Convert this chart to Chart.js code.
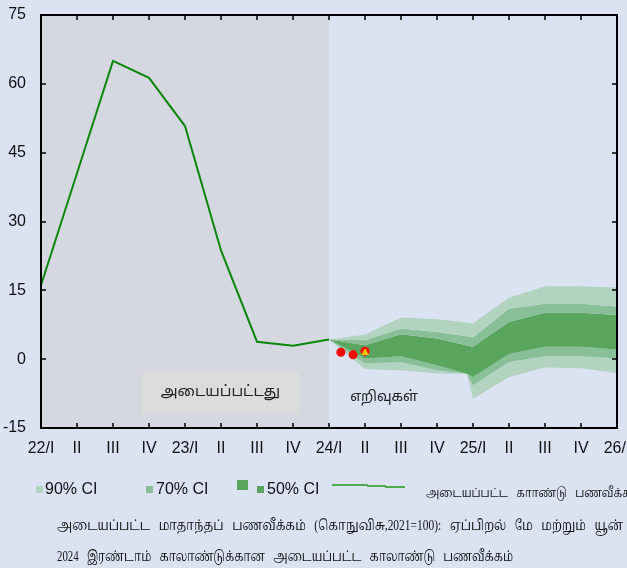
<!DOCTYPE html>
<html>
<head>
<meta charset="utf-8">
<script src="https://cdn.jsdelivr.net/npm/chart.js@4.4.1/dist/chart.umd.min.js"></script>
<style>
  html, body { margin: 0; padding: 0; background: #dbe3f3; }
  #wrap { position: relative; width: 627px; height: 568px; overflow: hidden; }
  canvas { position: absolute; left: 0; top: 0; }
  .lg { position: absolute; white-space: nowrap; color: #111; }
  .ci { font: 16px "Liberation Sans", Arial, sans-serif; }
  .ta { font: 14px/16px "Liberation Serif", "Noto Serif Tamil", "Noto Sans Tamil", serif;
        word-spacing: 7px; transform-origin: 0 50%; }
  .sq { position: absolute; }
</style>
</head>
<body>
<div id="wrap">
  <canvas id="chart" width="627" height="568"></canvas>

  <div class="sq" style="left:36px;top:486px;width:7px;height:7px;background:#b1d3c0"></div>
  <div class="lg ci" style="left:45px;top:480px">90% CI</div>
  <div class="sq" style="left:146px;top:486px;width:7px;height:7px;background:#88bf96"></div>
  <div class="lg ci" style="left:156px;top:480px">70% CI</div>
  <div class="sq" style="left:237px;top:480px;width:11px;height:10px;background:#5aa55e"></div>
  <div class="sq" style="left:257px;top:486px;width:7px;height:7px;background:#5aa55e"></div>
  <div class="lg ci" style="left:267px;top:480px">50% CI</div>
  <div class="sq" style="left:332px;top:484px;width:36px;height:2px;background:#4cae50"></div>
  <div class="sq" style="left:367px;top:485px;width:19px;height:2px;background:#4cae50"></div>
  <div class="sq" style="left:385px;top:486px;width:20px;height:2px;background:#4cae50"></div>
  <div id="lg1" class="lg ta" style="left:426px;top:485px;font-size:12px">அடையப்பட்ட காாண்டு பணவீக்கம்</div>

  <div id="lg2" class="lg ta" style="left:57px;top:518px">அடையப்பட்ட மாதாந்தப் பணவீக்கம் (கொநுவிசு,2021=100): ஏப்பிறல் மே மற்றும் யூன்</div>
  <div id="lg3" class="lg ta" style="left:57px;top:549px">2024 இரண்டாம் காலாண்டுக்கான அடையப்பட்ட காலாண்டு பணவீக்கம்</div>
</div>

<script>
// quarters on the x axis (index 0 = 2022 Q1)
const quarterLabels = ["22/I", "II", "III", "IV", "23/I", "II", "III", "IV", "24/I",
                       "II", "III", "IV", "25/I", "II", "III", "IV", "26/I"];
const yTicks = [-15, 0, 15, 30, 45, 60, 75];

// actual quarterly inflation, 22/I .. 24/I
const actualX = [0, 1, 2, 3, 4, 5, 6, 7, 8];
const actualQ = [16.1, 40.5, 65, 61.3, 50.8, 23.7, 3.8, 2.9, 4.3];

// fan chart edges (projections)
const fanX      = [8,   9,     10,   11,   11.83, 12,   13,   14,   15,   16];
const ci90Upper = [4.3, 5.4,   9.1,  8.7,  8.0,   7.8,  13.4, 15.9, 15.9, 15.6];
const ci70Upper = [4.3, 4.1,   6.7,  5.9,  5.0,   4.7,  11.0, 12.1, 12.1, 11.5];
const ci50Upper = [4.3, 3.05,  5.45, 4.5,  3.0,   2.7,  8.1,  10.1, 10.1, 9.6];
const ci50Lower = [4.3, 0.15,  0.65, -1.3, -3.2,  -3.9, 1.1,  2.7,  2.7,  2.1];
const ci70Lower = [4.3, -0.95, -0.6, -2.4, -3.2,  -5.7, -0.6, 0.65, 0.65, 0.15];
const ci90Lower = [4.3, -2.2,  -2.4, -3.1, -3.2,  -8.6, -3.9, -1.8, -2.0, -3.0];

// monthly actuals (April, May, June 2024) and Q2 actual
const monthlyX = [8.33, 8.67, 9];
const monthlyY = [1.5, 0.95, 1.75];
const q2X = [9];
const q2Y = [1.4];

const C90 = "#b1d3c0", C70 = "#88bf96", C50 = "#5aa55e";

// squeeze the Tamil legend lines to the widths they have in the original
function fitText(id, width) {
  const el = document.getElementById(id);
  el.style.transform = "none";
  const w = el.getBoundingClientRect().width;
  el.style.transform = "scaleX(" + (width / w) + ")";
}
function fitLegend() {
  fitText("lg1", 214);
  fitText("lg2", 566);
  fitText("lg3", 456);
}
fitLegend();
if (document.fonts) document.fonts.ready.then(fitLegend);

function pts(xs, ys) {
  return xs.map((x, i) => ({ x: x, y: ys[i] }));
}

function band(data, color, fill) {
  return {
    data: data,
    borderWidth: 0,
    pointRadius: 0,
    backgroundColor: color,
    fill: fill,
    tension: 0,
    order: 5
  };
}

const frame = {
  id: "frame",
  beforeDraw(chart) {
    const { ctx, chartArea: a, scales: { x, y } } = chart;
    ctx.save();
    ctx.fillStyle = "#dbe3f3";
    ctx.fillRect(0, 0, chart.width, chart.height);
    // actual period shading
    const x8 = x.getPixelForValue(8);
    ctx.fillStyle = "#d5d8e1";
    ctx.fillRect(a.left, a.top, x8 - a.left, a.bottom - a.top);
    // label box
    const bx0 = x.getPixelForValue(2.8), bx1 = x.getPixelForValue(7.17);
    const by0 = y.getPixelForValue(-2.8), by1 = y.getPixelForValue(-11.8);
    ctx.fillStyle = "#dcdcdd";
    ctx.fillRect(bx0, by0, bx1 - bx0, by1 - by0);
    ctx.fillStyle = "#222";
    ctx.textAlign = "center";
    ctx.textBaseline = "middle";
    ctx.font = '15px "Noto Sans Tamil", "Lohit Tamil", sans-serif';
    ctx.fillText("அடையப்பட்டது", (bx0 + bx1) / 2, (by0 + by1) / 2);
    ctx.font = '14px "Noto Sans Tamil", "Lohit Tamil", sans-serif';
    ctx.fillText("எறிவுகள்", x.getPixelForValue(9.53), y.getPixelForValue(-8.4));
    ctx.restore();
  },
  afterDraw(chart) {
    const { ctx, chartArea: a, scales: { x, y } } = chart;
    ctx.save();
    ctx.strokeStyle = "#000";
    ctx.lineWidth = 2;
    ctx.strokeRect(a.left, a.top, a.right - a.left, a.bottom - a.top);
    ctx.lineWidth = 1.5;
    ctx.beginPath();
    quarterLabels.forEach((_, i) => {
      const px = Math.round(x.getPixelForValue(i));
      ctx.moveTo(px, a.bottom); ctx.lineTo(px, a.bottom - 5);
      ctx.moveTo(px, a.top); ctx.lineTo(px, a.top + 5);
    });
    yTicks.forEach(v => {
      const py = Math.round(y.getPixelForValue(v));
      ctx.moveTo(a.left, py); ctx.lineTo(a.left + 5, py);
      ctx.moveTo(a.right, py); ctx.lineTo(a.right - 5, py);
    });
    ctx.stroke();

    ctx.fillStyle = "#111";
    ctx.font = '16px "Liberation Sans", Arial, sans-serif';
    ctx.textBaseline = "middle";
    ctx.textAlign = "right";
    yTicks.forEach(v => ctx.fillText(String(v), a.left - 15, y.getPixelForValue(v)));
    ctx.textAlign = "center";
    quarterLabels.forEach((t, i) => ctx.fillText(t, x.getPixelForValue(i), a.bottom + 21));
    ctx.restore();
  }
};

new Chart(document.getElementById("chart"), {
  type: "line",
  data: {
    datasets: [
      band(pts(fanX, ci90Upper), C90, "+1"),
      band(pts(fanX, ci70Upper), C70, "+1"),
      band(pts(fanX, ci50Upper), C50, "+1"),
      band(pts(fanX, ci50Lower), C70, "+1"),
      band(pts(fanX, ci70Lower), C90, "+1"),
      band(pts(fanX, ci90Lower), C90, false),
      {
        data: pts(actualX, actualQ),
        borderColor: "#0b870b",
        borderWidth: 2,
        pointRadius: 0,
        fill: false,
        tension: 0,
        order: 2
      },
      {
        type: "scatter",
        data: pts(monthlyX, monthlyY),
        pointRadius: 4.5,
        pointBackgroundColor: "#ff0000",
        pointBorderWidth: 0,
        order: 1
      },
      {
        type: "scatter",
        data: pts(q2X, q2Y),
        pointStyle: "triangle",
        pointRadius: 4.5,
        pointBackgroundColor: "#ffc000",
        pointBorderWidth: 0,
        order: 0
      }
    ]
  },
  options: {
    responsive: false,
    animation: false,
    devicePixelRatio: 1,
    layout: { padding: { left: 41, top: 15, right: 10, bottom: 140 } },
    plugins: { legend: { display: false }, tooltip: { enabled: false } },
    scales: {
      x: { type: "linear", min: 0, max: 16, display: false },
      y: { min: -15, max: 75, display: false }
    }
  },
  plugins: [frame]
});
</script>
</body>
</html>
